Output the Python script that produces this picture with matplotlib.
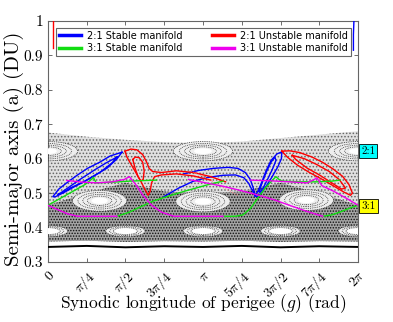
import numpy as np
import matplotlib
matplotlib.use("Agg")
import matplotlib.pyplot as plt
from matplotlib.patches import Ellipse
from matplotlib.lines import Line2D

PI = np.pi
plt.rcParams['mathtext.fontset'] = 'cm'
plt.rcParams['hatch.linewidth'] = 0.7

# axis ticks
g_ticks = [0, PI/4, PI/2, 3*PI/4, PI, 5*PI/4, 3*PI/2, 7*PI/4, 2*PI]
g_labels = [r'$0$', r'$\pi/4$', r'$\pi/2$', r'$3\pi/4$', r'$\pi$',
            r'$5\pi/4$', r'$3\pi/2$', r'$7\pi/4$', r'$2\pi$']
a_ticks = [0.3, 0.4, 0.5, 0.6, 0.7, 0.8, 0.9, 1.0]
a_labels = ['0.3', '0.4', '0.5', '0.6', '0.7', '0.8', '0.9', '1']

# outline of the Poincare section (chaotic sea)
sea_g = [0, PI/4, PI/2, 3*PI/4, PI, 5*PI/4, 3*PI/2, 7*PI/4, 2*PI]
sea_top = [0.676, 0.664, 0.655, 0.648, 0.645, 0.650, 0.660, 0.670, 0.680]
sea_bottom = [0.360, 0.362, 0.359, 0.361, 0.360, 0.362, 0.359, 0.361, 0.360]
dense_top = [0.465, 0.500, 0.530, 0.505, 0.500, 0.505, 0.530, 0.500, 0.465]
kam_a = [0.344, 0.347, 0.343, 0.346, 0.344, 0.347, 0.343, 0.346, 0.344]

# resonance islands: centres, half widths, half heights
isl21_g = [0, PI, 2*PI]
isl21_a = [0.622, 0.622, 0.622]
isl21_w, isl21_h = 0.60, 0.028
isl31_g = [PI/3, PI, 5*PI/3]
isl31_a = [0.478, 0.476, 0.480]
isl31_w, isl31_h = 0.55, 0.030
isl41_g = [0, PI/2, PI, 3*PI/2, 2*PI]
isl41_a = [0.390, 0.390, 0.390, 0.390, 0.390]
isl41_w, isl41_h = 0.40, 0.016
ring_scale = [1.0, 0.8, 0.62, 0.45]

# 2:1 stable manifold (blue)
blue_lobe_g = [1.50, 1.26, 1.05, 0.80, 0.59, 0.38, 0.22, 0.10, 0.14, 0.24, 0.45, 0.71, 0.95, 1.20, 1.40, 1.50]
blue_lobe_a = [0.619, 0.608, 0.590, 0.572, 0.552, 0.530, 0.512, 0.490, 0.489, 0.496, 0.515, 0.532, 0.552, 0.573, 0.600, 0.619]
blue_inner_g = [1.40, 1.18, 0.95, 0.65, 0.40, 0.25, 0.20, 0.30, 0.55, 0.78, 1.05, 1.30, 1.40]
blue_inner_a = [0.605, 0.588, 0.568, 0.540, 0.515, 0.500, 0.496, 0.500, 0.520, 0.537, 0.560, 0.588, 0.605]
blue_up_g = [2.75, 3.05, 3.35, 3.65, 3.85, 4.00, 4.10, 4.16, 4.20]
blue_up_a = [0.556, 0.566, 0.572, 0.575, 0.572, 0.560, 0.540, 0.515, 0.492]
blue_low_g = [2.35, 2.65, 2.95, 3.25, 3.55, 3.80, 3.97, 4.07, 4.14, 4.20]
blue_low_a = [0.490, 0.515, 0.535, 0.546, 0.552, 0.553, 0.545, 0.528, 0.508, 0.492]
blue_tongue_g = [4.20, 4.27, 4.34, 4.42, 4.52, 4.64, 4.74, 4.73, 4.66, 4.54, 4.42, 4.32, 4.24, 4.20]
blue_tongue_a = [0.492, 0.510, 0.535, 0.565, 0.595, 0.614, 0.620, 0.600, 0.577, 0.547, 0.520, 0.500, 0.490, 0.492]
blue_tin_g = [4.28, 4.34, 4.42, 4.52, 4.60, 4.62, 4.55, 4.45, 4.36, 4.30, 4.28]
blue_tin_a = [0.505, 0.530, 0.560, 0.590, 0.605, 0.595, 0.570, 0.540, 0.515, 0.503, 0.505]
blue_top_g = [6.19, 6.19, 6.20]
blue_top_a = [0.915, 0.960, 1.000]

# 2:1 unstable manifold (red)
red_a_g = [1.56, 1.68, 1.80, 1.92, 2.00, 2.05, 2.12, 2.30, 2.60, 2.95, 3.30, 3.60]
red_a_a = [0.622, 0.628, 0.626, 0.612, 0.590, 0.572, 0.563, 0.560, 0.565, 0.560, 0.548, 0.533]
red_b_g = [1.56, 1.60, 1.68, 1.78, 1.88, 1.97, 2.03, 2.07, 2.10, 2.16, 2.30, 2.60, 2.95, 3.30]
red_b_a = [0.622, 0.605, 0.585, 0.560, 0.535, 0.510, 0.494, 0.505, 0.530, 0.548, 0.553, 0.556, 0.550, 0.538]
red_in_g = [1.72, 1.76, 1.82, 1.88, 1.93, 1.95, 1.92, 1.85, 1.77, 1.72]
red_in_a = [0.598, 0.575, 0.550, 0.535, 0.540, 0.565, 0.590, 0.603, 0.605, 0.598]
red_faint_g = [2.90, 3.20, 3.50, 3.85]
red_faint_a = [0.565, 0.545, 0.520, 0.494]
red_r_g = [4.74, 4.90, 5.10, 5.35, 5.56, 5.78, 5.97, 6.10, 6.17, 6.13, 6.00, 5.80, 5.56, 5.30, 5.05, 4.85, 4.74]
red_r_a = [0.622, 0.623, 0.618, 0.605, 0.590, 0.570, 0.549, 0.525, 0.500, 0.494, 0.503, 0.520, 0.540, 0.560, 0.582, 0.605, 0.622]
red_rin_g = [4.95, 5.20, 5.45, 5.70, 5.90, 6.03, 5.95, 5.75, 5.50, 5.25, 5.02, 4.95]
red_rin_a = [0.610, 0.600, 0.583, 0.563, 0.540, 0.515, 0.512, 0.530, 0.553, 0.573, 0.598, 0.610]
red_top_g = [0.10, 0.10, 0.10]
red_top_a = [0.920, 0.960, 1.000]

# 3:1 stable manifold (green)
green_segs = [
    ([0, 0.25, 0.50, 0.75, 0.88, 0.92, 0.97], [0.465, 0.485, 0.505, 0.525, 0.540, 0.546, 0.532]),
    ([0.97, 1.30, 1.66, 2.00, 2.20], [0.530, 0.532, 0.535, 0.537, 0.538]),
    ([1.40, 1.65, 1.90, 2.15, 2.45, 2.75, 3.05, 3.30, 3.55], [0.433, 0.445, 0.462, 0.478, 0.492, 0.505, 0.517, 0.527, 0.535]),
    ([3.55, 3.80, 3.95, 4.10, 4.25, 4.40, 4.55, 4.62, 4.68, 4.75], [0.433, 0.433, 0.437, 0.455, 0.485, 0.515, 0.538, 0.548, 0.540, 0.535]),
    ([4.75, 5.10, 5.45, 5.75, 5.92], [0.535, 0.533, 0.533, 0.535, 0.538]),
    ([5.57, 5.75, 5.95, 6.12, 2*PI], [0.433, 0.437, 0.447, 0.457, 0.465]),
]
# 3:1 unstable manifold (magenta)
mag_segs = [
    ([0, 0.20, 0.40, 0.60, 1.00, 1.40], [0.465, 0.452, 0.440, 0.433, 0.433, 0.433]),
    ([0.38, 0.70, 1.00, 1.30, 1.55, 1.65, 1.78, 1.92, 2.10, 2.30, 2.55, 3.00, 3.55],
     [0.537, 0.532, 0.530, 0.533, 0.540, 0.548, 0.525, 0.495, 0.465, 0.445, 0.433, 0.433, 0.433]),
    ([2.85, 3.20, 3.55, 3.90, 4.25, 4.60, 4.95, 5.25, 5.57], [0.540, 0.530, 0.520, 0.508, 0.495, 0.480, 0.462, 0.447, 0.433]),
    ([4.10, 4.50, 4.90, 5.25, 5.40, 5.45, 5.55, 5.80, 6.05, 2*PI], [0.538, 0.536, 0.533, 0.530, 0.540, 0.545, 0.522, 0.505, 0.485, 0.465]),
]

BLUE, RED, GREEN, MAG = '#0000ff', '#ff0000', '#11dd11', '#ee00ee'

fig = plt.figure(figsize=(3.93, 3.22), dpi=100)
ax = fig.add_axes([0.122, 0.186, 0.789, 0.749])

# chaotic sea as stippled bands
ax.fill_between(sea_g, sea_bottom, sea_top, facecolor='#e0e0e0', edgecolor='#666666',
                hatch='.....', linewidth=0, zorder=1)
ax.fill_between(sea_g, sea_bottom, dense_top, facecolor='#a4a4a4', edgecolor='#111111',
                hatch='......', linewidth=0, zorder=1)

def islands(cg, ca, w, h, core):
    for gc, ac in zip(cg, ca):
        ax.add_patch(Ellipse((gc, ac), 2*w, 2*h, facecolor='#eeeeee', edgecolor='none', zorder=2))
        for s in ring_scale:
            ax.add_patch(Ellipse((gc, ac), 2*w*s, 2*h*s, facecolor='none', edgecolor='#333333',
                                 linestyle=(0, (1, 1.2)), linewidth=0.6, zorder=3))
        ax.add_patch(Ellipse((gc, ac), 2*w*core, 2*h*core, facecolor='white', edgecolor='none', zorder=3))

islands(isl21_g, isl21_a, isl21_w, isl21_h, 0.3)
islands(isl31_g, isl31_a, isl31_w, isl31_h, 0.3)
islands(isl41_g, isl41_a, isl41_w, isl41_h, 0.55)

ax.plot(sea_g, kam_a, color='black', linewidth=1.4, zorder=3)

lw = 1.0
for gg, aa in [(blue_lobe_g, blue_lobe_a), (blue_inner_g, blue_inner_a), (blue_up_g, blue_up_a),
               (blue_low_g, blue_low_a), (blue_tongue_g, blue_tongue_a), (blue_tin_g, blue_tin_a),
               (blue_top_g, blue_top_a)]:
    ax.plot(gg, aa, color=BLUE, linewidth=lw, zorder=5)
for gg, aa in [(red_a_g, red_a_a), (red_b_g, red_b_a), (red_in_g, red_in_a), (red_r_g, red_r_a),
               (red_rin_g, red_rin_a), (red_top_g, red_top_a)]:
    ax.plot(gg, aa, color=RED, linewidth=lw, zorder=5)
ax.plot(red_faint_g, red_faint_a, color='#ff8080', linewidth=0.7, linestyle=':', zorder=5)
for gg, aa in green_segs:
    ax.plot(gg, aa, color=GREEN, linewidth=lw, zorder=6)
for gg, aa in mag_segs:
    ax.plot(gg, aa, color=MAG, linewidth=lw, zorder=6)

ax.set_xlim(0, 2*PI)
ax.set_ylim(0.3, 1.0)
ax.set_xticks(g_ticks)
ax.set_xticklabels(g_labels, rotation=45, ha='right', rotation_mode='anchor', fontsize=10)
ax.set_yticks(a_ticks)
ax.set_yticklabels(a_labels, fontsize=11, fontfamily='cmr10')
ax.tick_params(direction='in', top=True, right=True, length=3, width=0.6, color='#555555')
ax.tick_params(axis='x', pad=4)
for sp in ax.spines.values():
    sp.set_color('#666666')
    sp.set_linewidth(0.8)

ax.set_xlabel('Synodic longitude of perigee ($g$) (rad)', fontfamily='cmr10', fontsize=12.5)
ax.xaxis.set_label_coords(0.5, -0.125)
ax.set_ylabel('Semi-major axis (a) (DU)', fontfamily='cmr10', fontsize=15)
ax.yaxis.set_label_coords(-0.078, 0.47)

handles = [Line2D([], [], color=BLUE, lw=2.5), Line2D([], [], color=GREEN, lw=2.5),
           Line2D([], [], color=RED, lw=2.5), Line2D([], [], color=MAG, lw=2.5)]
names = ['2:1 Stable manifold', '3:1 Stable manifold', '2:1 Unstable manifold', '3:1 Unstable manifold']
leg = ax.legend(handles, names, ncol=2, loc='upper left', bbox_to_anchor=(0.026, 0.846, 0.951, 0.125),
                mode='expand', borderaxespad=0, fontsize=7, fancybox=False, framealpha=1,
                handlelength=2.3, handletextpad=0.6, borderpad=0.3, labelspacing=0.25)
leg.get_frame().set_edgecolor('#666666')
leg.get_frame().set_linewidth(0.8)
leg.set_zorder(10)

ax.text(1.01, 0.622, '2:1', transform=ax.get_yaxis_transform(), fontfamily='cmr10', fontsize=8,
        va='center', ha='left', bbox=dict(boxstyle='square,pad=0.2', facecolor='#00ffff', edgecolor='black', linewidth=0.6))
ax.text(1.01, 0.462, '3:1', transform=ax.get_yaxis_transform(), fontfamily='cmr10', fontsize=8,
        va='center', ha='left', bbox=dict(boxstyle='square,pad=0.2', facecolor='#ffff00', edgecolor='black', linewidth=0.6))

fig.savefig('out.png', dpi=100)
